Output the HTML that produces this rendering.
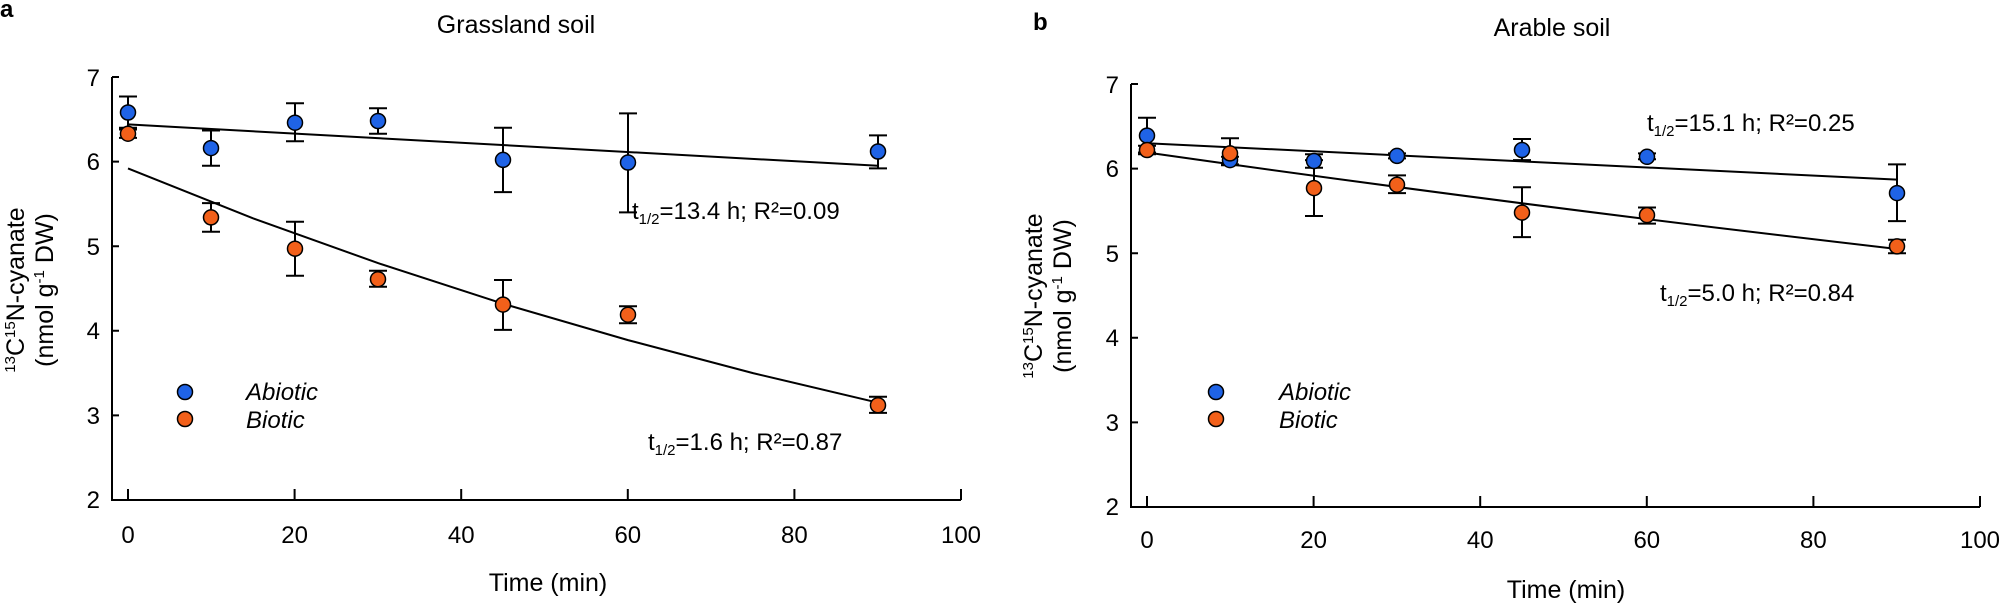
<!DOCTYPE html>
<html><head><meta charset="utf-8"><style>
html,body{margin:0;padding:0;background:#fff;}
svg{display:block;font-family:"Liberation Sans",Arial,sans-serif;}
</style></head><body>
<svg width="2000" height="605" viewBox="0 0 2000 605" xmlns="http://www.w3.org/2000/svg">
<g fill="#000">
<text x="0" y="17" font-weight="bold" font-size="24">a</text>
<text x="1033" y="30" font-weight="bold" font-size="24">b</text>
<text x="516" y="33" text-anchor="middle" font-size="25">Grassland soil</text>
<text x="1552" y="36" text-anchor="middle" font-size="25">Arable soil</text>
<text x="548" y="591" text-anchor="middle" font-size="25">Time (min)</text>
<text x="1566" y="598" text-anchor="middle" font-size="25">Time (min)</text>
</g>

<!-- LEFT AXES -->
<g stroke="#000" stroke-width="2" fill="none">
<path d="M112 77 V500 H961"/>
<path d="M112 77 h7 M112 161.6 h7 M112 246.2 h7 M112 330.8 h7 M112 415.4 h7"/>
<path d="M128 500 v-11 M294.6 500 v-11 M461.2 500 v-11 M627.8 500 v-11 M794.4 500 v-11 M961 500 v-11"/>
</g>
<g font-size="24" text-anchor="end">
<text x="100" y="86">7</text><text x="100" y="170">6</text><text x="100" y="255">5</text>
<text x="100" y="339">4</text><text x="100" y="424">3</text><text x="100" y="508">2</text>
</g>
<g font-size="24" text-anchor="middle">
<text x="128" y="543">0</text><text x="294.6" y="543">20</text><text x="461.2" y="543">40</text>
<text x="627.8" y="543">60</text><text x="794.4" y="543">80</text><text x="961" y="543">100</text>
</g>
<g transform="translate(24,290) rotate(-90)" font-size="25" text-anchor="middle">
<text x="0" y="0"><tspan font-size="15" dy="-9">13</tspan><tspan dy="9">C</tspan><tspan font-size="15" dy="-9">15</tspan><tspan dy="9">N-cyanate</tspan></text>
<text x="0" y="29">(nmol g<tspan font-size="15" dy="-9">-1</tspan><tspan dy="9"> DW)</tspan></text>
</g>
<g stroke="#000" stroke-width="2" fill="none">
<path d="M128 124.4 L878 165.8"/>
<polyline points="128,168.4 253,218.3 378,263.1 503,303.7 628,340.1 753,373.1 878,402.7"/>
</g>
<g stroke="#000" stroke-width="2" fill="none">
<path d="M128 129.5V96.5 M119 129.5h18 M119 96.5h18"/>
<path d="M211 165.8V130.5 M202 165.8h18 M202 130.5h18"/>
<path d="M295 141.3V103.2 M286 141.3h18 M286 103.2h18"/>
<path d="M378 133.7V108.3 M369 133.7h18 M369 108.3h18"/>
<path d="M503 192.1V127.8 M494 192.1h18 M494 127.8h18"/>
<path d="M628 212.4V113.4 M619 212.4h18 M619 113.4h18"/>
<path d="M878 168.4V135.4 M869 168.4h18 M869 135.4h18"/>
<path d="M128 137.9V127.8 M119 137.9h18 M119 127.8h18"/>
<path d="M211 231.8V203.1 M202 231.8h18 M202 203.1h18"/>
<path d="M295 275.8V221.7 M286 275.8h18 M286 221.7h18"/>
<path d="M378 286.8V270.7 M369 286.8h18 M369 270.7h18"/>
<path d="M503 329.9V280 M494 329.9h18 M494 280h18"/>
<path d="M628 323.2V306.3 M619 323.2h18 M619 306.3h18"/>
<path d="M878 412.9V396.8 M869 412.9h18 M869 396.8h18"/>
</g>
<g stroke="#000" stroke-width="1.5">
<g fill="#f2601a">
<circle cx="128" cy="133.7" r="7.5"/><circle cx="211" cy="217.4" r="7.5"/><circle cx="295" cy="248.7" r="7.5"/>
<circle cx="378" cy="279.2" r="7.5"/><circle cx="503" cy="304.6" r="7.5"/><circle cx="628" cy="314.7" r="7.5"/><circle cx="878" cy="405.2" r="7.5"/>
</g>
<g fill="#1f63e6">
<circle cx="128" cy="112.5" r="7.5"/><circle cx="211" cy="148.1" r="7.5"/><circle cx="295" cy="122.7" r="7.5"/>
<circle cx="378" cy="121" r="7.5"/><circle cx="503" cy="159.9" r="7.5"/><circle cx="628" cy="162.5" r="7.5"/><circle cx="878" cy="151.5" r="7.5"/>
</g>
<circle cx="185" cy="392" r="7.5" fill="#1f63e6"/><circle cx="185" cy="419" r="7.5" fill="#f2601a"/>
</g>
<g font-size="24" font-style="italic"><text x="246" y="400">Abiotic</text><text x="246" y="428">Biotic</text></g>
<g font-size="24">
<text x="632" y="219">t<tspan font-size="15" dy="5">1/2</tspan><tspan dy="-5">=13.4 h; R²=0.09</tspan></text>
<text x="648" y="450">t<tspan font-size="15" dy="5">1/2</tspan><tspan dy="-5">=1.6 h; R²=0.87</tspan></text>
</g>

<!-- RIGHT AXES -->
<g stroke="#000" stroke-width="2" fill="none">
<path d="M1131 84 V507 H1980"/>
<path d="M1131 84 h7 M1131 168.6 h7 M1131 253.2 h7 M1131 337.8 h7 M1131 422.4 h7"/>
<path d="M1147 507 v-11 M1313.6 507 v-11 M1480.2 507 v-11 M1646.8 507 v-11 M1813.4 507 v-11 M1980 507 v-11"/>
</g>
<g font-size="24" text-anchor="end">
<text x="1119" y="93">7</text><text x="1119" y="177">6</text><text x="1119" y="262">5</text>
<text x="1119" y="346">4</text><text x="1119" y="431">3</text><text x="1119" y="515">2</text>
</g>
<g font-size="24" text-anchor="middle">
<text x="1147" y="548">0</text><text x="1313.6" y="548">20</text><text x="1480.2" y="548">40</text>
<text x="1646.8" y="548">60</text><text x="1813.4" y="548">80</text><text x="1980" y="548">100</text>
</g>
<g transform="translate(1042,296) rotate(-90)" font-size="25" text-anchor="middle">
<text x="0" y="0"><tspan font-size="15" dy="-9">13</tspan><tspan dy="9">C</tspan><tspan font-size="15" dy="-9">15</tspan><tspan dy="9">N-cyanate</tspan></text>
<text x="0" y="29">(nmol g<tspan font-size="15" dy="-9">-1</tspan><tspan dy="9"> DW)</tspan></text>
</g>
<g stroke="#000" stroke-width="2" fill="none">
<path d="M1147 143.2 L1897 179.6"/>
<path d="M1147 152.5 Q1522 205.85 1897 249"/>
</g>
<g stroke="#000" stroke-width="2" fill="none">
<path d="M1147 152.5V117.8 M1138 152.5h18 M1138 117.8h18"/>
<path d="M1230 164.4V156.8 M1221 164.4h18 M1221 156.8h18"/>
<path d="M1314 167.8V154.2 M1305 167.8h18 M1305 154.2h18"/>
<path d="M1397 158.4V153.4 M1388 158.4h18 M1388 153.4h18"/>
<path d="M1522 160.1V139 M1513 160.1h18 M1513 139h18"/>
<path d="M1647 159.3V153.4 M1638 159.3h18 M1638 153.4h18"/>
<path d="M1897 221.1V164.4 M1888 221.1h18 M1888 164.4h18"/>
<path d="M1147 154.2V145.8 M1138 154.2h18 M1138 145.8h18"/>
<path d="M1230 165.2V138.2 M1221 165.2h18 M1221 138.2h18"/>
<path d="M1314 216V160.1 M1305 216h18 M1305 160.1h18"/>
<path d="M1397 193.1V175.4 M1388 193.1h18 M1388 175.4h18"/>
<path d="M1522 237.1V187.2 M1513 237.1h18 M1513 187.2h18"/>
<path d="M1647 223.6V207.5 M1638 223.6h18 M1638 207.5h18"/>
<path d="M1897 253.2V239.7 M1888 253.2h18 M1888 239.7h18"/>
</g>
<g stroke="#000" stroke-width="1.5">
<g fill="#1f63e6">
<circle cx="1147" cy="135.6" r="7.5"/><circle cx="1230" cy="160.1" r="7.5"/><circle cx="1314" cy="161" r="7.5"/>
<circle cx="1397" cy="155.9" r="7.5"/><circle cx="1522" cy="150" r="7.5"/><circle cx="1647" cy="156.8" r="7.5"/><circle cx="1897" cy="193.1" r="7.5"/>
</g>
<g fill="#f2601a">
<circle cx="1147" cy="150" r="7.5"/><circle cx="1230" cy="153.4" r="7.5"/><circle cx="1314" cy="188.1" r="7.5"/>
<circle cx="1397" cy="184.7" r="7.5"/><circle cx="1522" cy="212.6" r="7.5"/><circle cx="1647" cy="215.1" r="7.5"/><circle cx="1897" cy="246.4" r="7.5"/>
</g>
<circle cx="1216" cy="392" r="7.5" fill="#1f63e6"/><circle cx="1216" cy="419" r="7.5" fill="#f2601a"/>
</g>
<g font-size="24" font-style="italic"><text x="1279" y="400">Abiotic</text><text x="1279" y="428">Biotic</text></g>
<g font-size="24">
<text x="1647" y="131">t<tspan font-size="15" dy="5">1/2</tspan><tspan dy="-5">=15.1 h; R²=0.25</tspan></text>
<text x="1660" y="301">t<tspan font-size="15" dy="5">1/2</tspan><tspan dy="-5">=5.0 h; R²=0.84</tspan></text>
</g>
</svg>
</body></html>
